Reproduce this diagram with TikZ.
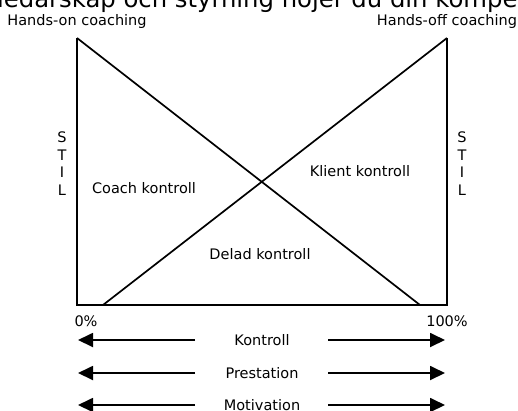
\documentclass[tikz,border=0pt]{standalone}
\usepackage{fontspec}
\setmainfont{DejaVu Sans}
\usetikzlibrary{arrows.meta, positioning}
\tikzstyle{txt} = [font=\fontsize{14.5}{17}\selectfont, inner sep=0pt, anchor=base]
\tikzstyle{heading} = [font=\fontsize{24.3}{28}\selectfont, inner sep=0pt, anchor=base west]
\tikzstyle{border} = [line width=2pt]
\tikzstyle{diag} = [line width=1.7pt]
\tikzstyle{arrow} = [line width=1.8pt, -{Triangle[length=15pt,width=14pt]}]

\begin{document}
\begin{tikzpicture}[x=1pt, y=-1pt]
    \useasboundingbox (0,0) rectangle (518,410);
    \clip (0,0) rectangle (518,410);

    % Heading (cut at the top)
    \node (heading) [heading] at (-3,7) {ledarskap och styrning höjer du din kompe};

    % Frame
    \coordinate (tl) at (77,38);
    \coordinate (bl) at (77,305);
    \coordinate (br) at (447,305);
    \coordinate (tr) at (447,38);
    \coordinate (onend) at (420,305);
    \coordinate (offstart) at (103,305);

    \draw [border] (tl) -- (bl) -- (br) -- (tr);
    \draw [diag] (tl) -- (onend);
    \draw [diag] (offstart) -- (tr);

    % Labels
    \node (handson) [txt] at (77,25) {Hands-on coaching};
    \node (handsoff) [txt] at (447,25) {Hands-off coaching};
    \node (coach) [txt] at (144,193) {Coach kontroll};
    \node (klient) [txt] at (360,176) {Klient kontroll};
    \node (delad) [txt] at (260,259) {Delad kontroll};
    \node (zero) [txt] at (86,326) {0\%};
    \node (hundred) [txt] at (447,326) {100\%};

    % STIL
    \foreach \c [count=\i] in {S,T,I,L} {
        \node (stilL\i) [txt] at (62,125+17.5*\i) {\c};
        \node (stilR\i) [txt] at (462,125+17.5*\i) {\c};
    }

    % Scales
    \node (kontroll) [txt] at (262,345) {Kontroll};
    \node (prestation) [txt] at (262,378) {Prestation};
    \node (motivation) [txt] at (262,410) {Motivation};

    \coordinate (kontrollA) at (195,340);
    \coordinate (kontrollB) at (78,340);
    \coordinate (kontrollC) at (328,340);
    \coordinate (kontrollD) at (445,340);
    \coordinate (prestationA) at (195,373);
    \coordinate (prestationB) at (78,373);
    \coordinate (prestationC) at (328,373);
    \coordinate (prestationD) at (445,373);
    \coordinate (motivationA) at (195,405);
    \coordinate (motivationB) at (78,405);
    \coordinate (motivationC) at (328,405);
    \coordinate (motivationD) at (445,405);

    \draw [arrow] (kontrollA) -- (kontrollB);
    \draw [arrow] (kontrollC) -- (kontrollD);
    \draw [arrow] (prestationA) -- (prestationB);
    \draw [arrow] (prestationC) -- (prestationD);
    \draw [arrow] (motivationA) -- (motivationB);
    \draw [arrow] (motivationC) -- (motivationD);

\end{tikzpicture}
\end{document}
